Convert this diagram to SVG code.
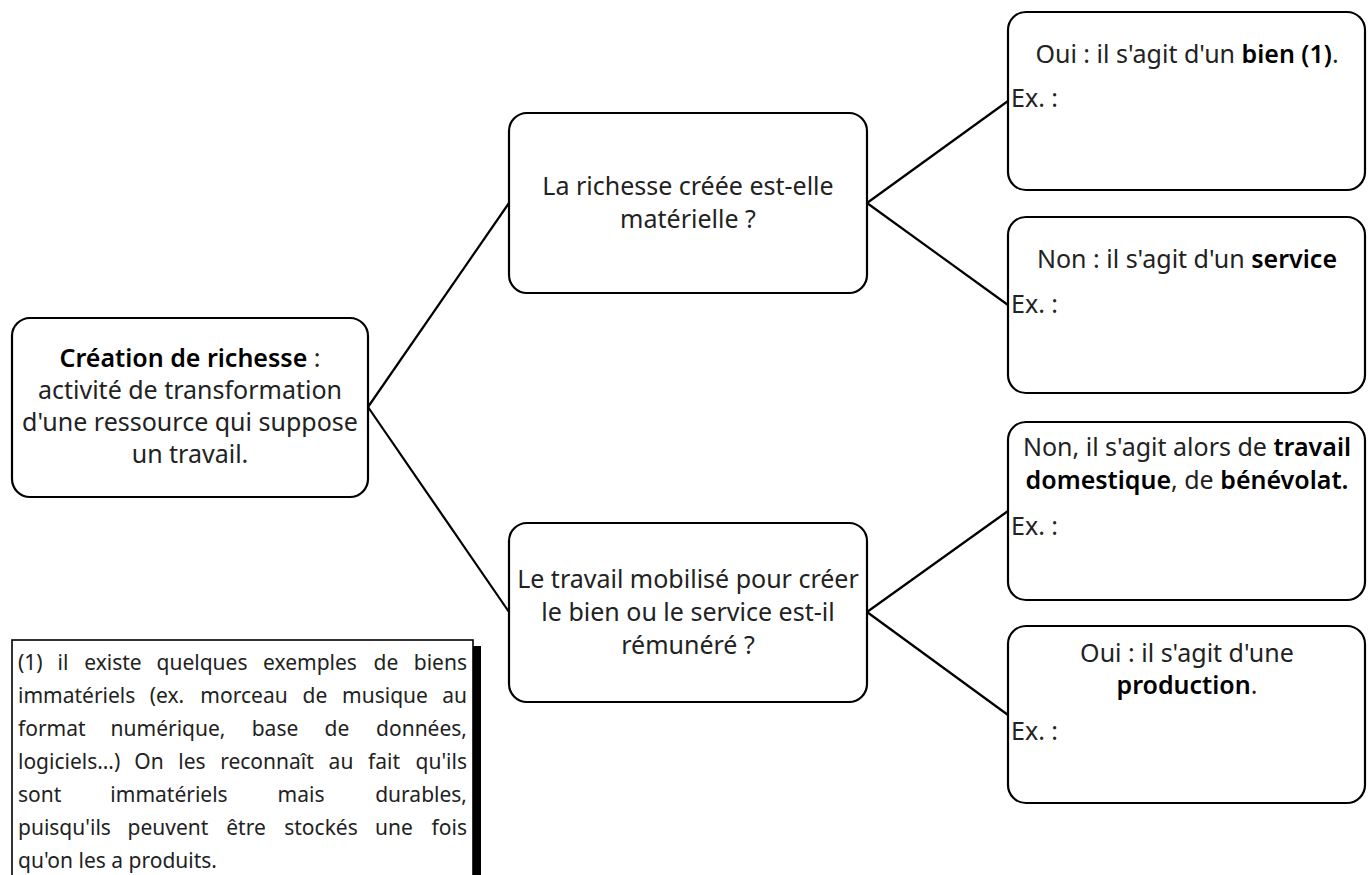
<svg xmlns="http://www.w3.org/2000/svg" width="1371" height="875" viewBox="0 0 1371 875">
<style>
.box{fill:#fff;stroke:#000;stroke-width:2.2}
.t{font-family:"Noto Sans","Open Sans","Liberation Sans",sans-serif;font-size:25px;fill:#222}
.c{text-anchor:middle}
.b{font-weight:600;fill:#000}
.n{font-family:"Noto Sans","Open Sans","Liberation Sans",sans-serif;font-size:21px;fill:#222}
.m{text-anchor:middle}
.e{text-anchor:end}
.conn{stroke:#000;stroke-width:2.2;fill:none}
</style>
<rect width="1371" height="875" fill="#fff"/>
<g id="connectors">
<line class="conn" x1="368" y1="407" x2="509" y2="203"/>
<line class="conn" x1="368" y1="407" x2="509" y2="612"/>
<line class="conn" x1="867" y1="203" x2="1008" y2="101"/>
<line class="conn" x1="867" y1="203" x2="1008" y2="305"/>
<line class="conn" x1="867" y1="612" x2="1008" y2="511"/>
<line class="conn" x1="867" y1="612" x2="1008" y2="715"/>
</g>
<g id="root">
<rect class="box" x="12" y="318" width="356" height="179" rx="18"/>
<text class="t c" x="190" y="367"><tspan class="b">Création de richesse</tspan> :</text>
<text class="t c" x="190" y="399">activité de transformation</text>
<text class="t c" x="190" y="431">d'une ressource qui suppose</text>
<text class="t c" x="190" y="463">un travail.</text>
</g>
<g id="q1">
<rect class="box" x="509" y="113" width="358" height="180" rx="18"/>
<text class="t c" x="688" y="195">La richesse créée est-elle</text>
<text class="t c" x="688" y="228">matérielle ?</text>
</g>
<g id="q2">
<rect class="box" x="509" y="523" width="358" height="179" rx="18"/>
<text class="t c" x="688" y="588">Le travail mobilisé pour créer</text>
<text class="t c" x="688" y="621">le bien ou le service est-il</text>
<text class="t c" x="688" y="654">rémunéré ?</text>
</g>
<g id="bien">
<rect class="box" x="1008" y="12" width="357" height="178" rx="18"/>
<text class="t c" x="1187" y="63">Oui : il s'agit d'un <tspan class="b">bien (1)</tspan>.</text>
<text class="t" x="1011" y="107">Ex. :</text>
</g>
<g id="service">
<rect class="box" x="1008" y="217" width="357" height="176" rx="18"/>
<text class="t c" x="1187" y="268">Non : il s'agit d'un <tspan class="b">service</tspan></text>
<text class="t" x="1011" y="313">Ex. :</text>
</g>
<g id="benevolat">
<rect class="box" x="1008" y="422" width="357" height="178" rx="18"/>
<text class="t c" x="1187" y="456">Non, il s'agit alors de <tspan class="b">travail</tspan></text>
<text class="t c" x="1187" y="489"><tspan class="b">domestique</tspan>, de <tspan class="b">bénévolat.</tspan></text>
<text class="t" x="1011" y="535">Ex. :</text>
</g>
<g id="production">
<rect class="box" x="1008" y="626" width="357" height="177" rx="18"/>
<text class="t c" x="1187" y="662">Oui : il s'agit d'une</text>
<text class="t c" x="1187" y="694"><tspan class="b">production</tspan>.</text>
<text class="t" x="1011" y="740">Ex. :</text>
</g>
<g id="note">
<rect x="18" y="646" width="463" height="240" fill="#000"/>
<rect x="12" y="640" width="461" height="250" fill="#fff" stroke="#000" stroke-width="1.6"/>
<g class="n">
<text x="18" y="670">(1)</text>
<text class="m" x="63" y="670">il</text>
<text class="m" x="113" y="670">existe</text>
<text class="m" x="202" y="670">quelques</text>
<text class="m" x="310" y="670">exemples</text>
<text class="m" x="386" y="670">de</text>
<text class="e" x="467" y="670">biens</text>
<text x="18" y="703">immatériels</text>
<text class="m" x="167" y="703">(ex.</text>
<text class="m" x="244" y="703">morceau</text>
<text class="m" x="315" y="703">de</text>
<text class="m" x="385" y="703">musique</text>
<text class="e" x="467" y="703">au</text>
<text x="18" y="736">format</text>
<text class="m" x="168" y="736">numérique,</text>
<text class="m" x="275" y="736">base</text>
<text class="m" x="337" y="736">de</text>
<text class="e" x="467" y="736">données,</text>
<text x="18" y="769">logiciels…)</text>
<text class="m" x="149" y="769">On</text>
<text class="m" x="192" y="769">les</text>
<text class="m" x="267" y="769">reconnaît</text>
<text class="m" x="341" y="769">au</text>
<text class="m" x="384" y="769">fait</text>
<text class="e" x="467" y="769">qu'ils</text>
<text x="18" y="802">sont</text>
<text class="m" x="169" y="802">immatériels</text>
<text class="m" x="301" y="802">mais</text>
<text class="e" x="467" y="802">durables,</text>
<text x="18" y="835">puisqu'ils</text>
<text class="m" x="168" y="835">peuvent</text>
<text class="m" x="246" y="835">être</text>
<text class="m" x="321" y="835">stockés</text>
<text class="m" x="394" y="835">une</text>
<text class="e" x="467" y="835">fois</text>
<text x="18" y="868">qu'on les a produits.</text>
</g>
</g>
</svg>
